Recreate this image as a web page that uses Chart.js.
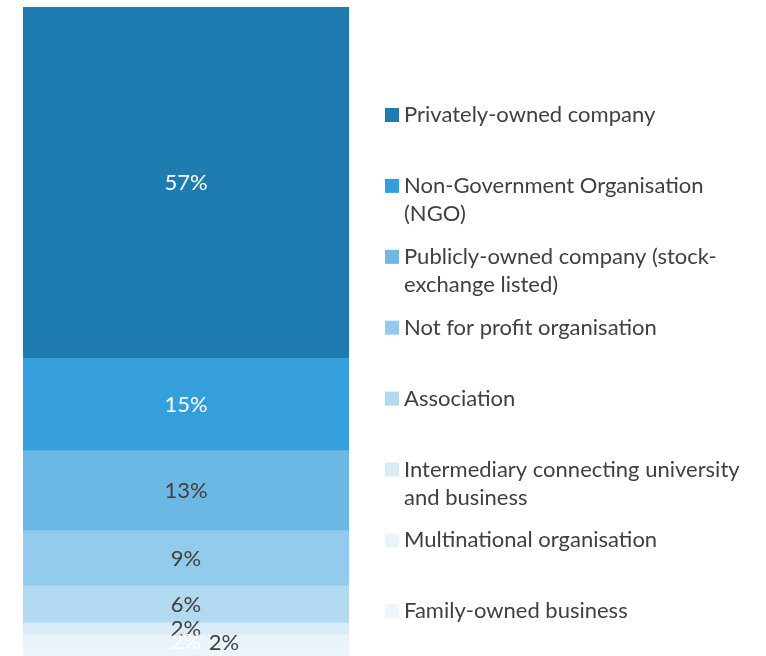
<!DOCTYPE html>
<html lang="en">
  <head>
    <meta charset="UTF-8" />
    <title>Organisation type</title>
    <script src="https://cdn.jsdelivr.net/npm/chart.js"></script>
    <style>
      html, body { margin: 0; padding: 0; background: #fff; }
      .chart-box { position: relative; width: 766px; height: 656px; }
    </style>
  </head>
  <body>
    <div class="chart-box">
      <canvas id="orgChart"></canvas>
    </div>

    <script>
      // organisation types, top of the bar first
      const categories = [
        "Privately-owned company",
        "Non-Government Organisation (NGO)",
        "Publicly-owned company (stock-exchange listed)",
        "Not for profit organisation",
        "Association",
        "Intermediary connecting university and business",
        "Multinational organisation",
        "Family-owned business"
      ];
      // how the legend text wraps
      const legendLines = [
        ["Privately-owned company"],
        ["Non-Government Organisation", "(NGO)"],
        ["Publicly-owned company (stock-", "exchange listed)"],
        ["Not for profit organisation"],
        ["Association"],
        ["Intermediary connecting university", "and business"],
        ["Multinational organisation"],
        ["Family-owned business"]
      ];
      const shares = [57, 15, 13, 9, 6, 2, 2, 2];
      const segmentColors = ["#1f7cb1", "#359fdc", "#6cb8e5", "#92cbeb", "#b1daf0", "#d8ebf6", "#e8f4fa", "#ebf5fb"];
      const labelColors = ["#ffffff", "#ffffff", "#404040", "#404040", "#404040", "#404040", "#ffffff", "#404040"];

      const textFont = "Lato, 'Open Sans', sans-serif";

      // percentage labels in the middle of each slice
      const sliceLabels = {
        id: "sliceLabels",
        afterDatasetsDraw(chart) {
          const ctx = chart.ctx;
          ctx.save();
          ctx.font = "22px " + textFont;
          ctx.textAlign = "center";
          ctx.textBaseline = "middle";
          chart.data.datasets.forEach((ds, i) => {
            const bar = chart.getDatasetMeta(i).data[0];
            let x = bar.x;
            let y = (bar.y + bar.base) / 2 + 1;
            if (i === shares.length - 1) {
              // last one sits beside the one above it
              const prev = chart.getDatasetMeta(i - 1).data[0];
              x = bar.x + 38;
              y = (prev.y + prev.base) / 2 + 2;
            }
            ctx.fillStyle = labelColors[i];
            ctx.fillText(ds.data[0] + "%", x, y);
          });
          ctx.restore();
        }
      };

      // legend on the right, text wrapped like the original
      const sideLegend = {
        id: "sideLegend",
        afterDraw(chart) {
          const ctx = chart.ctx;
          const left = 385, top = 115, slot = 70.9, lineH = 28;
          ctx.save();
          ctx.font = "22px " + textFont;
          ctx.textAlign = "left";
          ctx.textBaseline = "middle";
          legendLines.forEach((lines, i) => {
            const y = top + i * slot;
            ctx.fillStyle = segmentColors[i];
            ctx.fillRect(left, y - 7, 14, 14);
            ctx.fillStyle = "#404040";
            lines.forEach((t, j) => ctx.fillText(t, left + 19, y + j * lineH));
          });
          ctx.restore();
        }
      };

      new Chart(document.getElementById("orgChart"), {
        type: "bar",
        data: {
          labels: [""],
          datasets: categories.map((name, i) => ({
            label: name,
            data: [shares[i]],
            backgroundColor: segmentColors[i],
            borderWidth: 0,
            barPercentage: 1,
            categoryPercentage: 1
          }))
        },
        options: {
          responsive: true,
          maintainAspectRatio: false,
          animation: false,
          layout: { padding: { left: 23, right: 417, top: 7, bottom: 0 } },
          plugins: {
            legend: { display: false },
            tooltip: { enabled: false }
          },
          scales: {
            x: { stacked: true, display: false },
            y: { stacked: true, display: false, reverse: true, min: 0, max: 105.5 }
          }
        },
        plugins: [sliceLabels, sideLegend]
      });
    </script>
  </body>
</html>
